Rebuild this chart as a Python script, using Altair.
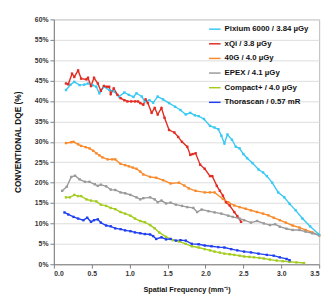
import altair as alt
import pandas as pd

series_names = ["Pixium 6000 / 3.84 µGy", "xQi / 3.8 µGy", "40G / 4.0 µGy",
                "EPEX / 4.1 µGy", "Compact+ / 4.0 µGy", "Thorascan / 0.57 mR"]
series_colors = ["#38c8f4", "#e32b22", "#f98a2c", "#9a9a9a", "#a3cc1e", "#2040f0"]

x_ticks = [0.0, 0.5, 1.0, 1.5, 2.0, 2.5, 3.0, 3.5]
y_ticks = [0, 5, 10, 15, 20, 25, 30, 35, 40, 45, 50, 55, 60]

pixium_x = [0.16, 0.22, 0.27, 0.34, 0.40, 0.45, 0.51, 0.56, 0.60, 0.66, 0.73, 0.79, 0.86, 0.93, 0.99,
            1.05, 1.09, 1.16, 1.20, 1.26, 1.31, 1.37, 1.44, 1.52, 1.60, 1.67, 1.74, 1.80, 1.86, 1.91,
            1.98, 2.06, 2.12, 2.17, 2.21, 2.25, 2.29, 2.35, 2.40, 2.45, 2.50, 2.55, 2.62, 2.70, 2.76,
            2.81, 2.88, 2.96, 3.04, 3.11, 3.19, 3.28, 3.38, 3.49]
pixium_y = [42.7, 44.0, 44.7, 43.9, 44.0, 44.3, 43.9, 43.5, 41.9, 43.5, 42.7, 42.4, 41.1, 42.1, 41.5,
            41.0, 41.9, 41.1, 39.9, 40.2, 39.6, 41.1, 40.4, 39.5, 38.6, 37.8, 36.7, 37.1, 36.5, 36.3,
            35.6, 33.9, 33.5, 33.1, 31.5, 29.6, 31.8, 30.5, 28.8, 28.4, 27.0, 26.0, 24.8, 23.2, 22.5,
            21.6, 20.0, 17.6, 16.4, 14.8, 13.2, 11.2, 9.3, 7.4]

xqi_x = [0.16, 0.19, 0.24, 0.27, 0.32, 0.36, 0.43, 0.45, 0.49, 0.53, 0.58, 0.62, 0.66, 0.70, 0.73,
         0.75, 0.79, 0.84, 0.88, 0.93, 0.97, 1.02, 1.07, 1.11, 1.14, 1.18, 1.21, 1.24, 1.29, 1.33,
         1.37, 1.42, 1.46, 1.52, 1.59, 1.64, 1.69, 1.76, 1.80, 1.83, 1.87, 1.93, 1.99, 2.06, 2.09,
         2.15, 2.19, 2.23, 2.27, 2.32, 2.38, 2.42, 2.47]
xqi_y = [44.3, 44.1, 46.7, 45.9, 47.5, 45.5, 45.3, 45.7, 43.7, 45.7, 44.3, 42.5, 43.7, 43.5, 43.5,
         41.7, 43.1, 41.5, 40.7, 40.2, 39.9, 39.9, 39.9, 39.9, 39.5, 39.1, 40.4, 39.5, 37.1, 38.3,
         36.7, 38.3, 35.9, 32.9, 32.3, 31.2, 30.0, 28.8, 26.8, 27.0, 27.2, 24.4, 23.4, 21.6, 21.6,
         19.2, 18.0, 16.8, 15.2, 14.4, 12.8, 11.8, 10.4]

g40_x = [0.16, 0.23, 0.26, 0.32, 0.36, 0.42, 0.47, 0.52, 0.56, 0.60, 0.64, 0.71, 0.77, 0.81, 0.88,
         0.94, 0.99, 1.04, 1.09, 1.14, 1.18, 1.27, 1.35, 1.44, 1.54, 1.65, 1.72, 1.78, 1.87, 1.99,
         2.06, 2.12, 2.23, 2.30, 2.38, 2.45, 2.53, 2.60, 2.68, 2.76, 2.83, 2.90, 2.98, 3.06, 3.15,
         3.24, 3.32, 3.41, 3.50]
g40_y = [29.7, 29.9, 30.0, 29.4, 29.0, 28.7, 28.4, 27.8, 27.2, 26.7, 26.2, 25.7, 25.7, 25.7, 24.6,
         24.3, 24.0, 23.7, 23.4, 22.7, 22.0, 21.4, 21.2, 20.6, 19.8, 20.0, 19.3, 18.6, 18.0, 17.6,
         17.6, 17.6, 16.0, 15.2, 14.4, 14.0, 13.6, 13.2, 12.8, 12.4, 12.0, 11.4, 10.8, 10.2, 9.5,
         9.0, 8.4, 7.8, 7.1]

epex_x = [0.11, 0.17, 0.23, 0.28, 0.34, 0.41, 0.47, 0.54, 0.58, 0.62, 0.69, 0.75, 0.81, 0.88, 0.94,
          1.01, 1.09, 1.14, 1.18, 1.27, 1.33, 1.37, 1.42, 1.48, 1.54, 1.61, 1.69, 1.76, 1.84, 1.89,
          1.95, 2.04, 2.12, 2.21, 2.30, 2.36, 2.45, 2.51, 2.60, 2.68, 2.77, 2.85, 2.92, 2.98, 3.07,
          3.15, 3.24, 3.32, 3.41, 3.50]
epex_y = [18.0, 19.0, 21.4, 21.7, 20.8, 20.2, 20.2, 19.6, 19.2, 19.5, 19.1, 18.3, 18.2, 17.6, 17.4,
          17.0, 16.4, 15.9, 16.2, 16.4, 15.9, 15.2, 15.6, 14.9, 15.1, 14.6, 14.3, 14.0, 13.8, 12.8,
          13.4, 13.0, 12.7, 12.4, 11.9, 11.6, 11.2, 10.8, 10.2, 10.6, 10.0, 9.6, 9.8, 9.2, 8.7,
          8.4, 8.4, 8.0, 7.6, 7.1]

compact_x = [0.16, 0.21, 0.27, 0.32, 0.36, 0.43, 0.49, 0.56, 0.62, 0.69, 0.75, 0.81, 0.88, 0.94, 1.01,
             1.07, 1.14, 1.20, 1.27, 1.33, 1.39, 1.48, 1.57, 1.65, 1.74, 1.82, 1.91, 1.99, 2.06, 2.12,
             2.19, 2.25, 2.32, 2.38, 2.45, 2.51, 2.58, 2.64, 2.71, 2.77, 2.85, 2.94, 3.02, 3.11, 3.20,
             3.30]
compact_y = [16.4, 16.4, 17.0, 16.7, 16.7, 15.9, 15.6, 15.4, 14.6, 14.3, 13.8, 13.5, 12.8, 12.4, 11.9,
             11.2, 10.6, 10.3, 9.6, 8.8, 7.8, 6.7, 5.9, 5.6, 5.0, 4.4, 4.1, 3.7, 3.4, 3.1,
             2.85, 2.6, 2.45, 2.3, 2.1, 1.9, 1.8, 1.7, 1.55, 1.4, 1.15, 0.9, 0.75, 0.6, 0.45,
             0.3]

thora_x = [0.14, 0.19, 0.26, 0.32, 0.39, 0.44, 0.49, 0.53, 0.58, 0.62, 0.69, 0.75, 0.81, 0.88, 0.94,
           1.01, 1.07, 1.14, 1.20, 1.27, 1.31, 1.35, 1.42, 1.48, 1.54, 1.61, 1.67, 1.74, 1.82, 1.91,
           1.99, 2.08, 2.17, 2.25, 2.34, 2.42, 2.51, 2.60, 2.70, 2.81, 2.90, 2.98, 3.07, 3.11]
thora_y = [12.7, 12.2, 11.6, 11.2, 10.8, 11.4, 10.4, 10.8, 11.0, 10.2, 9.5, 9.3, 8.8, 8.6, 8.3,
           8.1, 7.8, 7.6, 7.4, 7.3, 6.9, 6.2, 6.6, 6.1, 6.2, 5.8, 5.9, 5.8, 5.0, 4.9,
           4.6, 4.4, 4.2, 4.1, 3.7, 3.4, 3.1, 2.9, 2.6, 2.3, 2.1, 1.7, 1.3, 1.0]

all_x = [pixium_x, xqi_x, g40_x, epex_x, compact_x, thora_x]
all_y = [pixium_y, xqi_y, g40_y, epex_y, compact_y, thora_y]

rows = []
for name, xs, ys in zip(series_names, all_x, all_y):
    for i, (xv, yv) in enumerate(zip(xs, ys)):
        rows.append({"series": name, "freq": xv, "dqe": yv, "idx": i})
df = pd.DataFrame(rows)

FONT = "Liberation Sans"

chart = alt.Chart(df).mark_line(
    strokeWidth=1.4,
    point=alt.OverlayMarkDef(size=6, filled=True, shape="square"),
).encode(
    x=alt.X("freq:Q",
            scale=alt.Scale(domain=[0, 3.5], nice=False, zero=False),
            axis=alt.Axis(values=x_ticks, format=".1f", grid=False,
                          title="Spatial Frequency (mm⁻¹)", titlePadding=9,
                          titleFontSize=7.5)),
    y=alt.Y("dqe:Q",
            scale=alt.Scale(domain=[0, 60], nice=False),
            axis=alt.Axis(values=y_ticks, labelExpr="datum.value + '%'",
                          title="CONVENTIONAL DQE (%)", titlePadding=12)),
    color=alt.Color("series:N",
                    scale=alt.Scale(domain=series_names, range=series_colors),
                    legend=alt.Legend(orient="none", legendX=158, legendY=3, title=None,
                                      symbolType="stroke", symbolSize=140,
                                      symbolStrokeWidth=1.5, labelFont=FONT,
                                      labelFontSize=8, labelFontWeight="bold",
                                      labelColor="#111111", rowPadding=4,
                                      labelOffset=3)),
    order="idx:Q",
).properties(
    width=272, height=251,
    autosize=alt.AutoSizeParams(type="none"),
    padding={"left": 47, "top": 8, "right": 7, "bottom": 35},
    background="white",
).configure_view(
    stroke="#b8b8b8", strokeWidth=1,
).configure_axis(
    domainColor="#808080", tickColor="#808080", tickSize=4,
    labelFont=FONT, labelFontSize=7, labelFontWeight="bold", labelColor="#333333",
    titleFont=FONT, titleFontSize=8.5, titleFontWeight="bold", titleColor="#111111",
    gridColor="#dcdcdc", labelPadding=2,
)

chart.save("out.html", embed_options={"renderer": "svg", "actions": False})
